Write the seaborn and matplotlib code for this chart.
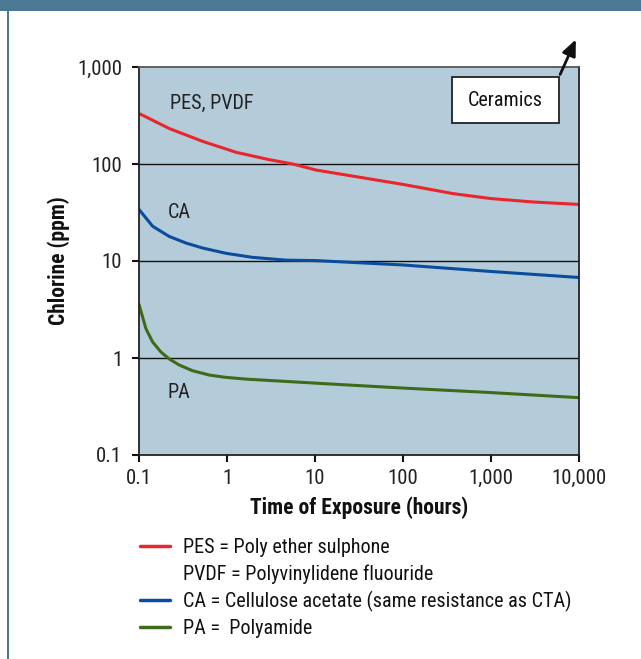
import matplotlib
matplotlib.use("Agg")
import matplotlib.pyplot as plt
from matplotlib import font_manager
from matplotlib.lines import Line2D
from matplotlib.patches import Rectangle
import matplotlib.ticker as mticker
import numpy as np
import pandas as pd
import seaborn as sns

# ---- data ----
pes_hours = [0.1, 0.221, 0.53, 1.27, 3.0, 5.6, 10.3, 100, 372, 1000, 3000, 10000]
pes_ppm = [332, 232, 171, 132, 111, 100, 86.6, 61.6, 49.5, 44, 40.6, 38.3]

ca_hours = [0.1, 0.143, 0.221, 0.343, 0.53, 0.975, 1.96, 4.7, 10.3, 100, 1000, 10000]
ca_ppm = [34, 22.8, 17.9, 15.3, 13.6, 12.0, 10.9, 10.2, 10.1, 9.1, 7.8, 6.76]

pa_hours = [0.1, 0.12, 0.143, 0.178, 0.221, 0.287, 0.407, 0.63, 0.975, 1.64, 14.7, 100, 1000, 10000]
pa_ppm = [3.57, 2.0, 1.46, 1.15, 0.976, 0.846, 0.739, 0.667, 0.631, 0.606, 0.54, 0.49, 0.44, 0.39]

series_names = ["PES, PVDF", "CA", "PA"]
series_colors = ["#e8262b", "#0a4c9e", "#3e6b1a"]
x_ticks = [0.1, 1, 10, 100, 1000, 10000]
x_tick_labels = ["0.1", "1", "10", "100", "1,000", "10,000"]
y_ticks = [0.1, 1, 10, 100, 1000]
y_tick_labels = ["0.1", "1", "10", "100", "1,000"]
legend_labels = ["PES = Poly ether sulphone",
                 "PVDF = Polyvinylidene fluouride",
                 "CA = Cellulose acetate (same resistance as CTA)",
                 "PA =  Polyamide"]

df = pd.concat([
    pd.DataFrame({"hours": pes_hours, "ppm": pes_ppm, "series": series_names[0]}),
    pd.DataFrame({"hours": ca_hours, "ppm": ca_ppm, "series": series_names[1]}),
    pd.DataFrame({"hours": pa_hours, "ppm": pa_ppm, "series": series_names[2]}),
], ignore_index=True)

sns.set_theme(style="white")
available = {f.name for f in font_manager.fontManager.ttflist}
fam = None
for cand in ["Liberation Sans Narrow", "Roboto Condensed", "Arial Narrow", "Roboto", "Liberation Sans"]:
    if cand in available:
        fam = cand
        break
plt.rcParams["font.family"] = [fam, "DejaVu Sans"] if fam else ["DejaVu Sans"]

W, H = 641, 659
fig = plt.figure(figsize=(W / 100, H / 100), dpi=100)
fig.patch.set_facecolor("white")

# banner & left border
fig.add_artist(Rectangle((0, 1 - 11 / H), 1, 11 / H, transform=fig.transFigure,
                         facecolor="#4b7893", edgecolor="none"))
fig.add_artist(Rectangle((7 / W, 0), 2 / W, 1, transform=fig.transFigure,
                         facecolor="#4b7893", edgecolor="none"))

ax_l, ax_r, ax_t, ax_b = 139, 579, 67, 455
ax = fig.add_axes([ax_l / W, 1 - ax_b / H, (ax_r - ax_l) / W, (ax_b - ax_t) / H])
ax.set_facecolor("#b4ccd9")

sns.lineplot(data=df, x="hours", y="ppm", hue="series", hue_order=series_names,
             palette=series_colors, linewidth=2.2, ax=ax, legend=False, sort=True)

ax.set_xscale("log")
ax.set_yscale("log")
ax.set_xlim(0.1, 10000)
ax.set_ylim(0.1, 1000)
ax.set_xticks(x_ticks)
ax.set_xticklabels(x_tick_labels)
ax.set_yticks(y_ticks)
ax.set_yticklabels(y_tick_labels)
ax.xaxis.set_minor_locator(mticker.NullLocator())
ax.yaxis.set_minor_locator(mticker.NullLocator())
ax.tick_params(axis="both", which="major", direction="out", length=5, width=1.5,
               color="#111111", labelsize=15, labelcolor="#222222", pad=7,
               left=True, bottom=True)
ax.tick_params(axis="x", pad=5)

for yv in y_ticks[1:-1]:
    ax.axhline(yv, color="#111111", linewidth=1.0, zorder=1)

for side in ["left", "bottom", "right"]:
    ax.spines[side].set_visible(True)
    ax.spines[side].set_color("#222222")
    ax.spines[side].set_linewidth(1.3)
ax.spines["top"].set_visible(True)
ax.spines["top"].set_color("#555555")
ax.spines["top"].set_linewidth(1.3)

ax.set_xlabel("Time of Exposure (hours)", fontsize=15.5, fontweight="bold",
              color="#111111", labelpad=6)
ax.set_ylabel("Chlorine (ppm)", fontsize=15.5, fontweight="bold",
              color="#111111", labelpad=5)

# series labels
ax.text(0.225, 420, "PES, PVDF", fontsize=14.5, color="#222222", va="center")
ax.text(0.21, 32, "CA", fontsize=14.5, color="#222222", va="center")
ax.text(0.21, 0.44, "PA", fontsize=14.5, color="#222222", va="center")

# Ceramics box with arrow
bx0, bx1 = (452 - ax_l) / (ax_r - ax_l), (559 - ax_l) / (ax_r - ax_l)
by0, by1 = (ax_b - 123) / (ax_b - ax_t), (ax_b - 77) / (ax_b - ax_t)
ax.add_patch(Rectangle((bx0, by0), bx1 - bx0, by1 - by0, transform=ax.transAxes,
                       facecolor="white", edgecolor="#222222", linewidth=1.3, zorder=5))
ax.text((bx0 + bx1) / 2, (by0 + by1) / 2, "Ceramics", transform=ax.transAxes,
        ha="center", va="center", fontsize=14.5, color="#111111", zorder=6)
tipx, tipy = (577 - ax_l) / (ax_r - ax_l), (ax_b - 37) / (ax_b - ax_t)
ax.annotate("", xy=(tipx, tipy), xycoords="axes fraction",
            xytext=(bx1, by1), textcoords="axes fraction",
            arrowprops=dict(arrowstyle="-|>,head_length=0.8,head_width=0.35",
                            color="#111111", lw=2), annotation_clip=False, zorder=7)

# legend below
handles = [Line2D([], [], color=series_colors[0], lw=2.5),
           Line2D([], [], color="none", lw=0),
           Line2D([], [], color=series_colors[1], lw=2.5),
           Line2D([], [], color=series_colors[2], lw=2.5)]
fig.legend(handles, legend_labels, loc="upper left",
           bbox_to_anchor=(140 / W, 1 - 538 / H), frameon=False, fontsize=14.5,
           handlelength=1.5, handletextpad=0.65, labelspacing=0.36,
           labelcolor="#111111", borderaxespad=0, borderpad=0)

fig.savefig("out.png", dpi=100, facecolor="white")
